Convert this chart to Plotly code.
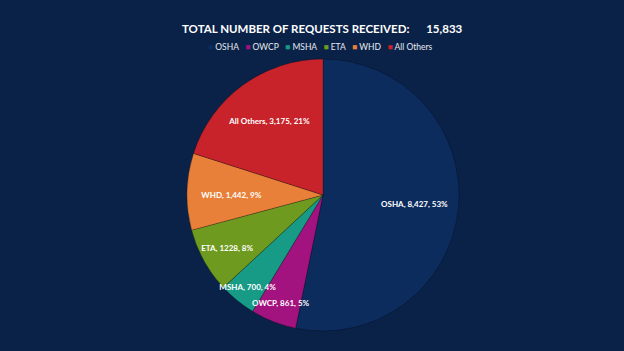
import plotly.graph_objects as go

labels = ["OSHA", "OWCP", "MSHA", "ETA", "WHD", "All Others"]
values = [8427, 861, 700, 1228, 1442, 3175]
value_text = ["8,427", "861", "700", "1228", "1,442", "3,175"]
pct_text = ["53%", "5%", "4%", "8%", "9%", "21%"]
colors = ["#0c2c5e", "#a3137f", "#179a86", "#6e9b1f", "#e8803a", "#c8232a"]
total_text = "15,833"

W, H = 624, 351
cx, cy, R = 323, 195, 136
domain = dict(x=[(cx - R) / W, (cx + R) / W], y=[1 - (cy + R) / H, 1 - (cy - R) / H])

fig = go.Figure()
# filled slices
fig.add_trace(go.Pie(
    labels=labels, values=values,
    textinfo="none",
    sort=False, direction="clockwise", rotation=0,
    marker=dict(colors=colors, line=dict(color="rgba(0,0,0,0.25)", width=1)),
    hoverinfo="label+value+percent",
    showlegend=False, domain=domain,
))
# transparent overlay carrying the data labels so they sit on top of all slices
fig.add_trace(go.Pie(
    labels=labels, values=values,
    customdata=[[v, p] for v, p in zip(value_text, pct_text)],
    texttemplate="%{label}, %{customdata[0]}, %{customdata[1]}",
    textposition="inside",
    insidetextorientation="horizontal",
    textfont=dict(family="Lato", size=8.5, color="white", weight="bold"),
    sort=False, direction="clockwise", rotation=0, hole=0.35,
    marker=dict(colors=["rgba(0,0,0,0)"] * len(labels), line=dict(width=0)),
    hoverinfo="skip",
    showlegend=False, domain=domain,
))

legend_html = "&nbsp;&nbsp;&nbsp;".join(
    f'<span style="color:{c}">■</span> {l}' for l, c in zip(labels, colors)
)

fig.update_layout(
    width=W, height=H,
    margin=dict(l=0, r=0, t=0, b=0),
    paper_bgcolor="#0a2248",
    plot_bgcolor="#0a2248",
    uniformtext=dict(minsize=8, mode="show"),
    annotations=[
        dict(text="<b>TOTAL NUMBER OF REQUESTS RECEIVED:&nbsp;&nbsp;&nbsp;&nbsp;&nbsp;&nbsp;" + total_text + "</b>",
             x=322 / W, y=1 - 29 / H, xref="paper", yref="paper", xanchor="center", yanchor="middle",
             showarrow=False, font=dict(family="Lato", size=11.5, color="white")),
        dict(text=legend_html,
             x=320 / W, y=1 - 47 / H, xref="paper", yref="paper", xanchor="center", yanchor="middle",
             showarrow=False, font=dict(family="Lato", size=8.5, color="#e6e9ef")),
    ],
)

fig.write_html("out.html")
